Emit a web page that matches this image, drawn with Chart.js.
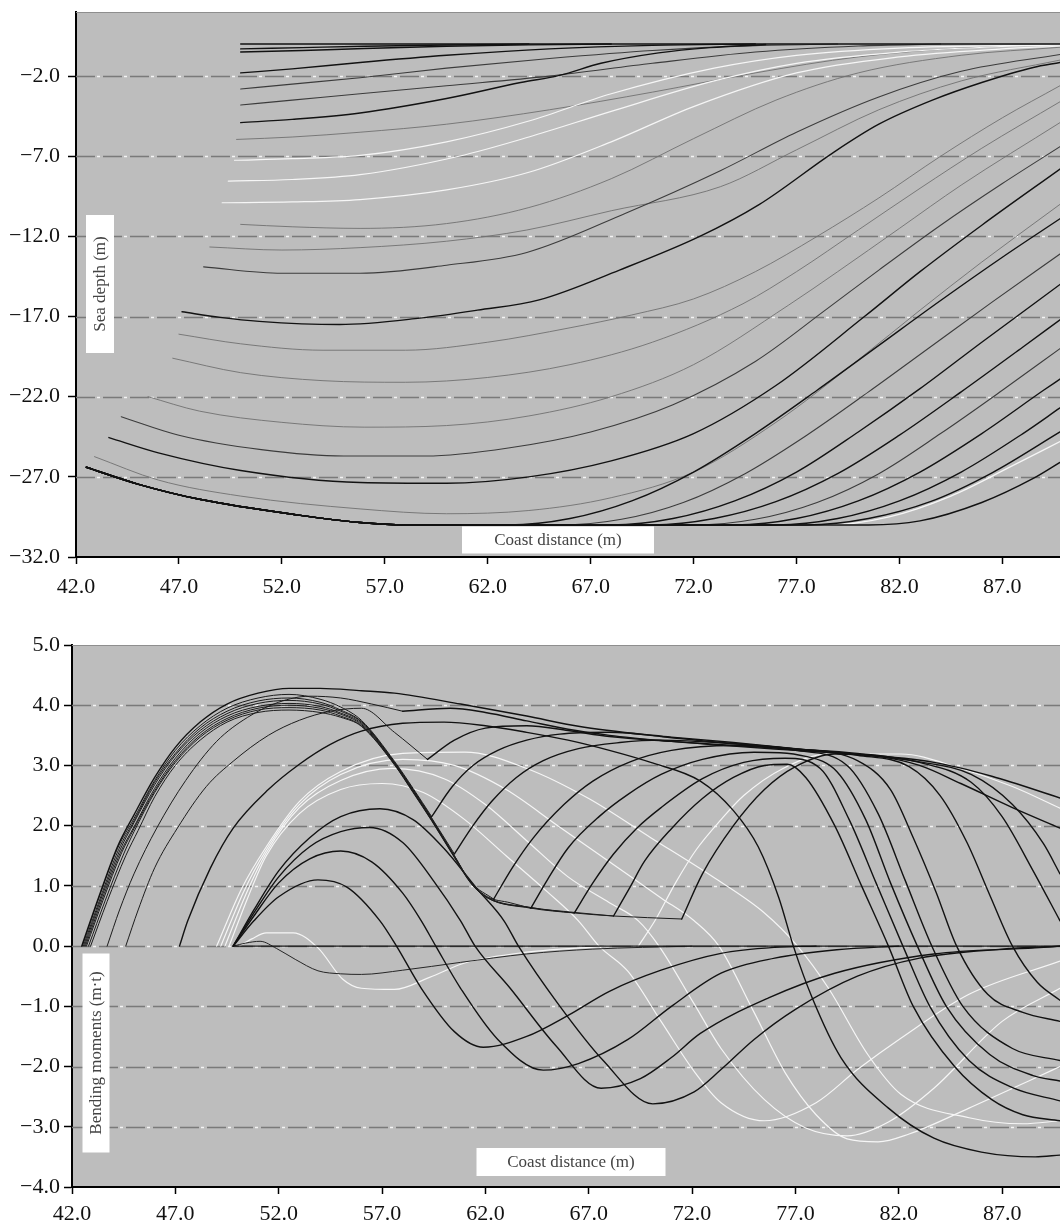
<!DOCTYPE html>
<html><head><meta charset="utf-8">
<script src="https://cdn.jsdelivr.net/npm/chart.js@4.4.1/dist/chart.umd.min.js"></script>
<style>
html,body{margin:0;padding:0;background:#fff;width:1060px;height:1224px;overflow:hidden;}
.wrap{position:absolute;left:0;width:1060px;height:612px;}
#w1{top:0}
#w2{top:612px}
canvas{display:block}
</style></head><body>
<div class="wrap" id="w1"><canvas id="c1" width="1060" height="612"></canvas></div>
<div class="wrap" id="w2"><canvas id="c2" width="1060" height="612"></canvas></div>
<script>
// ---------- tick labels ----------
const xTicks = [42, 47, 52, 57, 62, 67, 72, 77, 82, 87];
const depthTicks = [-32, -27, -22, -17, -12, -7, -2];
const momentTicks = [-4, -3, -2, -1, 0, 1, 2, 3, 4, 5];

// ---------- top panel: sea depth (m) vs coast distance (m) ----------
const d01 = [[50.0,0.0],[70,0.0],[89.8,0.0]];
const d02 = [[50.0,-0.3],[53,-0.22],[56,-0.14],[60,-0.06],[64,0.0]];
const d03 = [[50.0,-0.5],[53,-0.4],[56,-0.28],[60,-0.14],[64,-0.05],[68,0.0]];
const d04 = [[50.0,-1.8],[52.5,-1.55],[55.8,-1.15],[60,-0.7],[65,-0.3],[70,-0.08],[75,0.0]];
const d05 = [[50.0,-2.8],[52.5,-2.5],[55.8,-2.1],[60,-1.5],[65,-0.9],[70,-0.4],[75,-0.1],[79,0.0]];
const d06 = [[50.0,-3.8],[52.5,-3.5],[55.8,-3.1],[60,-2.6],[65,-2.0],[70,-1.2],[75,-0.5],[80,-0.12],[84,0.0]];
const d07 = [[50.0,-4.9],[52.5,-4.7],[55.8,-4.3],[60,-3.4],[63.6,-2.4],[65.5,-1.95],[67.5,-1.2],[70.3,-0.55],[72.8,-0.22],[75.5,-0.03]];
const d08 = [[49.8,-5.95],[52.5,-5.8],[55.8,-5.5],[60,-5.0],[65,-4.1],[70,-3.0],[75,-1.8],[80,-0.8],[85,-0.25],[89.8,-0.05]];
const d09 = [[49.7,-7.25],[52.5,-7.15],[55.8,-6.95],[60,-6.1],[64,-4.8],[68,-3.1],[73,-1.5],[77,-0.7],[82,-0.25],[89.8,-0.05]];
const d10 = [[49.4,-8.55],[52.5,-8.45],[55.8,-8.15],[60.6,-7.0],[64,-5.8],[68,-4.2],[73,-2.3],[77,-1.2],[82,-0.5],[87,-0.15],[89.8,-0.05]];
const d11 = [[49.1,-9.9],[52.5,-9.85],[55.8,-9.7],[60,-9.1],[64,-8.0],[68,-6.1],[72,-3.9],[77,-1.8],[82,-0.8],[87,-0.3],[89.8,-0.12]];
const d12 = [[50.0,-11.25],[52.5,-11.4],[55.8,-11.5],[60,-11.2],[64,-10.2],[68,-8.4],[72,-5.9],[76,-3.5],[80,-1.8],[85,-0.7],[89.8,-0.2]];
const d13 = [[48.5,-12.66],[52,-12.85],[55.8,-12.7],[60,-12.3],[63.9,-11.6],[68,-10.4],[73.3,-8.9],[77,-6.6],[81,-4.1],[85,-2.3],[89.8,-1.0]];
const d14 = [[48.2,-13.9],[52,-14.3],[55.8,-14.3],[60,-13.8],[63.9,-13.0],[68.7,-10.55],[73.3,-7.9],[77,-5.5],[81,-3.3],[85,-1.7],[89.8,-0.65]];
const d15 = [[47.15,-16.7],[49,-17.05],[50.9,-17.3],[54.8,-17.5],[58.7,-17.1],[61.5,-16.6],[64.5,-15.96],[68.4,-14.1],[72.3,-12.0],[75.2,-10.0],[78.75,-6.8],[81,-5.0],[83.6,-3.5],[86,-2.4],[88.5,-1.46],[89.8,-1.15]];
const d16 = [[47.0,-18.1],[50,-18.7],[54,-19.1],[58,-19.1],[62,-18.6],[66,-17.7],[69,-16.9],[72,-15.9],[75,-14.2],[78,-12.0],[81,-9.6],[84,-7.0],[87,-4.6],[89.8,-2.6]];
const d17 = [[46.7,-19.6],[50,-20.5],[54,-21.0],[58,-21.1],[62,-20.8],[66,-20.0],[70,-18.6],[74.4,-16.2],[77,-14.2],[80,-11.6],[83,-9.0],[86,-6.5],[89.8,-3.6]];
const d18 = [[45.5,-22.0],[48,-22.9],[52,-23.6],[56,-23.9],[60,-23.8],[64,-23.2],[68,-22.0],[72,-20.0],[76.6,-16.3],[79,-14.2],[82,-11.5],[85,-8.8],[89.8,-4.9]];
const d19 = [[44.2,-23.25],[47,-24.4],[51,-25.3],[55,-25.7],[59,-25.7],[63,-25.2],[67,-24.2],[71,-22.5],[75,-19.8],[78.4,-16.6],[81,-14.1],[84,-11.3],[87,-8.7],[89.8,-6.4]];
const d20 = [[43.6,-24.55],[46,-25.5],[50,-26.6],[55.8,-27.35],[60,-27.4],[64,-27.0],[68,-26.0],[72,-24.3],[76,-21.3],[80.3,-17.0],[83,-14.2],[86,-11.3],[89.8,-7.8]];
const d21 = [[42.9,-25.74],[46,-27.2],[50,-28.2],[55.8,-29.0],[60,-29.3],[64,-29.1],[68,-28.3],[72,-26.7],[76,-23.6],[80,-19.7],[83,-16.6],[86,-13.6],[89.8,-10.0]];
// pipe lying on the sea bed, then rising towards the surface
const seabed = [[42.5,-26.4],[45,-27.45],[48,-28.4],[52.9,-29.4],[55.8,-29.85],[58,-30.0]];
const rise01 = [[63,-30.0],[66,-29.6],[69,-28.5],[72,-26.7],[75,-24.3],[78,-21.6],[81,-18.8],[84,-16.0],[87,-13.3],[89.8,-10.9]];
const rise02 = [[65.5,-30.0],[68.5,-29.65],[71.5,-28.6],[74.5,-26.8],[77.5,-24.4],[80.5,-21.7],[83.5,-18.9],[86.5,-16.1],[89.8,-13.1]];
const rise03 = [[68,-30.0],[71,-29.6],[74,-28.5],[77,-26.7],[80,-24.2],[83,-21.5],[86,-18.6],[89.8,-15.0]];
const rise04 = [[70,-30.0],[73,-29.6],[76,-28.55],[79,-26.8],[82,-24.4],[85,-21.7],[88,-18.9],[89.8,-17.2]];
const rise05 = [[72,-30.0],[75,-29.65],[78,-28.6],[81,-26.8],[84,-24.3],[87,-21.6],[89.8,-19.0]];
const rise06 = [[74,-30.0],[77,-29.6],[80,-28.5],[83,-26.7],[86,-24.3],[89,-21.6],[89.8,-20.9]];
const rise07 = [[76,-30.0],[79,-29.6],[82,-28.5],[85,-26.7],[88,-24.3],[89.8,-22.7]];
const rise08 = [[77.5,-30.0],[80.5,-29.6],[83.5,-28.55],[86.5,-26.75],[89.8,-24.2]];
const rise09 = [[78.5,-30.0],[81.5,-29.5],[84.5,-28.2],[87.5,-26.3],[89.8,-24.8]];
const rise10 = [[80.5,-30.0],[83,-29.75],[86,-28.6],[88.5,-27.1],[89.8,-26.1]];

// ---------- bottom panel: bending moments (m·t) vs coast distance (m) ----------
const m00 = [[49.8,0],[89.8,0]];
const mF1 = [[49.8,0],[50.4,0.05],[51.1,0.08],[51.9,-0.04],[52.8,-0.22],[53.9,-0.41],[55,-0.46],[56,-0.47],[58,-0.4],[60.8,-0.27],[64,-0.13],[67.2,-0.05],[72,0]];
const mF2 = [[50.1,0],[50.7,0.12],[51.4,0.22],[52.7,0.22],[53.9,-0.03],[55.1,-0.55],[56,-0.7],[57.6,-0.72],[59.3,-0.52],[61,-0.28],[64,-0.1],[68,0]];
const mE1 = [[49.8,0],[50.8,0.42],[52,0.82],[53.9,1.1],[55.3,0.98],[56.9,0.42],[57.7,0],[58.9,-0.7],[60.5,-1.42],[61.9,-1.68],[64,-1.5],[66,-1.15],[68,-0.75],[70.5,-0.4],[73.4,-0.12],[76,-0.02],[78,0]];
const mE2 = [[49.8,0],[50.8,0.5],[52,1.05],[53.5,1.45],[55,1.58],[56.5,1.4],[58,0.88],[58.9,0.42],[59.6,0],[60.8,-0.7],[62.6,-1.55],[64.8,-2.06],[66.5,-1.95],[68.9,-1.55],[71,-1.0],[73.4,-0.45],[76,-0.2],[79,-0.06],[82,0]];
const mE3 = [[49.8,0],[50.8,0.55],[52,1.15],[53.5,1.65],[55,1.9],[56.4,1.97],[58,1.72],[59.5,1.08],[60.8,0.42],[61.5,0],[63.2,-0.7],[65.4,-1.65],[67.6,-2.36],[69.5,-2.2],[71,-1.85],[72.4,-1.45],[75.7,-0.86],[78.9,-0.45],[83.7,-0.13],[88.6,-0.03],[89.8,0]];
const mE4 = [[49.8,0],[50.8,0.6],[52,1.25],[53.5,1.8],[55,2.15],[56.9,2.28],[58.5,2.1],[60,1.62],[61.6,0.95],[62.9,0.42],[63.6,0],[65.5,-0.95],[67.7,-1.9],[70.1,-2.62],[72.1,-2.42],[73.4,-2.05],[75,-1.55],[77,-1.05],[80,-0.5],[83,-0.2],[87,-0.05],[89.8,0]];
const mW1 = [[49.6,0],[50.5,0.8],[51.4,1.5],[53,2.2],[55,2.6],[57,2.7],[59,2.55],[61,2.1],[63,1.5],[65,0.9],[66.5,0.42],[67.5,0],[68.9,-0.42],[70.5,-1.25],[72.1,-2.08],[73.4,-2.6],[75.5,-2.9],[78,-2.6],[80,-2.05],[82.1,-1.53],[85.4,-0.8],[89.8,-0.25]];
const mW2 = [[49.4,0],[50.4,0.85],[51.4,1.55],[53,2.3],[55,2.75],[57.5,2.95],[60,2.78],[62,2.35],[64,1.75],[66,1.15],[68,0.72],[69.4,0.42],[70.4,0],[72.1,-0.96],[73.4,-1.7],[75.5,-2.55],[77.5,-3.02],[79.5,-3.15],[81.5,-2.92],[83.7,-2.36],[87,-1.25],[89.8,-0.7]];
const mW3 = [[49.2,0],[50.3,0.9],[51.4,1.6],[53,2.35],[55,2.85],[58,3.1],[60.5,3.0],[63,2.6],[65.5,2.0],[68,1.4],[70.5,0.8],[72.1,0.42],[73.3,0],[75,-1.1],[76.5,-2.1],[78,-2.8],[79.5,-3.2],[81,-3.25],[82.5,-3.12],[85.4,-2.69],[88.6,-2.19],[89.8,-2.0]];
const mW4 = [[49.0,0],[50.2,0.95],[51.4,1.65],[53,2.4],[55,2.9],[58,3.2],[61,3.22],[64,2.95],[67,2.45],[70,1.8],[73,1.15],[75.5,0.55],[77.1,0],[78.6,-0.7],[80.5,-1.8],[82.1,-2.46],[85.4,-2.85],[88,-2.95],[89.8,-2.9]];
const mWA = [[69.4,0],[70.2,0.42],[71.2,1.05],[72.2,1.6],[73.4,2.1],[74.5,2.5],[76.4,2.95],[78.6,3.19],[82.1,3.19],[85,2.95],[87.5,2.65],[89.8,2.29]];
const mX3 = [[47.2,0],[47.6,0.42],[48.7,1.3],[49.8,1.96],[51.5,2.6],[53,3.02],[54.5,3.35],[56,3.57],[58,3.7],[60,3.72],[62,3.66],[64,3.55],[66,3.42],[68,3.25],[70,3.05],[72.4,2.74],[74,2.25],[75.2,1.65],[76.2,0.8],[76.9,0],[77.8,-0.85],[79.2,-1.85],[81.5,-2.69],[83.7,-3.19],[86,-3.42],[88.6,-3.5],[89.8,-3.47]];
const mTop = [[42.47,0],[43.3,0.82],[44.2,1.65],[45,2.18],[46,2.8],[47,3.3],[48.2,3.72],[49.5,4.02],[51,4.2],[52.5,4.28],[54,4.28],[56,4.24],[57.6,4.2],[60.8,4.02],[64,3.82],[66.5,3.65],[70.5,3.48],[73.4,3.38],[78.9,3.22],[83.7,3.05],[86.5,2.82],[89.8,2.46]];
const mX1 = [[43.7,0],[44.3,0.6],[45,1.2],[46.1,1.96],[47.5,2.75],[49,3.4],[50.5,3.8],[52,4.05],[53.5,4.15],[55,4.12],[56.5,4.02],[58,3.9]];
const mA1 = [[58,3.9],[60.3,3.95],[62,3.88],[64,3.74],[66,3.6],[68,3.5],[71,3.4],[74,3.32],[77,3.25],[80,3.18],[83,3.06],[85.5,2.85],[87.5,2.35],[89,1.7],[89.8,1.2]];
const mX2 = [[44.6,0],[45.2,0.6],[46,1.3],[47.1,1.96],[48.5,2.65],[49.8,3.07],[51.5,3.5],[53,3.75],[54.5,3.9],[56,3.95],[57.6,3.55],[59.2,3.1]];
const mA2 = [[59.2,3.1],[60.5,3.42],[62,3.62],[64,3.66],[66,3.58],[68,3.48],[71,3.4],[74,3.33],[77,3.27],[80,3.2],[83,3.05],[85.5,2.72],[87,2.15],[88.5,1.25],[89.8,0.42]];
const mB3 = [[42.5,0],[43.3,0.8],[44.2,1.62],[45,2.12],[46,2.75],[47,3.25],[48.2,3.66],[49.5,3.95],[51,4.12],[52.5,4.18],[54,4.1],[55,3.97],[56,3.75],[57.6,3.07],[58.5,2.62],[59.4,2.15]];
const mA3 = [[59.4,2.15],[60.4,2.65],[61.4,3.0],[62.6,3.25],[64,3.42],[65.6,3.52],[68,3.55],[71,3.47],[74,3.38],[77,3.28],[80,3.17],[82.5,2.98],[84,2.5],[85.3,1.72],[86.4,0.85],[87.5,0],[88.7,-0.6],[89.8,-0.9]];
const mB4 = [[42.55,0],[43.35,0.78],[44.25,1.6],[45,2.08],[46,2.72],[47,3.2],[48.2,3.62],[49.5,3.9],[51,4.07],[52.5,4.12],[54,4.05],[55,3.92],[56,3.73],[57.6,3.05],[58.5,2.6],[59.4,2.13],[60.5,1.53]];
const mA4 = [[60.5,1.53],[61.4,2.0],[62.3,2.4],[63.5,2.8],[64.8,3.08],[66.5,3.28],[68.5,3.38],[70.5,3.42],[74,3.36],[77,3.27],[80,3.08],[81.6,2.6],[82.7,1.8],[83.8,0.9],[84.8,0],[86.3,-0.8],[88,-1.1],[89.8,-1.25]];
const mB5 = [[42.6,0],[43.4,0.78],[44.3,1.58],[45,2.05],[46,2.68],[47,3.17],[48.2,3.58],[49.5,3.86],[51,4.03],[52.5,4.08],[54,4.02],[55,3.9],[56,3.72],[57.6,3.05],[58.5,2.6],[59.4,2.12],[60.5,1.5],[61.3,1.06],[62.4,0.78]];
const mA5 = [[62.4,0.78],[63.3,1.3],[64.3,1.79],[65.8,2.35],[67.2,2.74],[69,3.06],[71,3.25],[74,3.33],[77,3.25],[79.5,3.0],[81,2.2],[82.3,1.1],[83.6,0],[85.1,-1.0],[87.5,-1.7],[89.8,-1.9]];
const mB6 = [[42.65,0],[43.45,0.77],[44.35,1.56],[45,1.98],[46,2.62],[47,3.12],[48.2,3.54],[49.5,3.82],[51,3.98],[52.5,4.03],[54,3.98],[55,3.87],[56,3.7],[57.6,3.04],[58.5,2.58],[59.4,2.1],[60.5,1.5],[61.3,1.06],[62.1,0.82],[63.2,0.72],[64.2,0.63]];
const mA6 = [[64.2,0.63],[65,1.1],[66,1.63],[67.5,2.15],[68.9,2.52],[70.5,2.85],[72.5,3.1],[75,3.22],[77.5,3.15],[79,2.9],[80.4,2.1],[81.6,1.05],[82.9,0],[84.3,-1.0],[86.4,-1.8],[88.5,-2.15],[89.8,-2.24]];
const mB7 = [[42.7,0],[43.5,0.76],[44.4,1.55],[45,1.95],[46,2.58],[47,3.08],[48.2,3.5],[49.5,3.78],[51,3.95],[52.5,4.0],[54,3.95],[55,3.85],[56,3.68],[57.6,3.03],[58.5,2.57],[59.4,2.1],[60.5,1.49],[61.3,1.05],[62.1,0.81],[64.2,0.64],[66.3,0.55]];
const mA7 = [[66.3,0.55],[67.2,1.05],[68.2,1.53],[69.3,1.95],[70.5,2.3],[72.5,2.78],[74.5,3.05],[76.5,3.12],[78.2,2.95],[79.6,2.1],[80.9,1.05],[82.2,0],[83.5,-1.0],[85.4,-1.9],[87.5,-2.35],[89.8,-2.57]];
const mB8 = [[42.8,0],[43.6,0.75],[44.5,1.53],[45,1.9],[46,2.55],[47,3.05],[48.2,3.47],[49.5,3.75],[51,3.92],[52.5,3.96],[54,3.92],[55,3.82],[56,3.66],[57.6,3.02],[58.5,2.56],[59.4,2.09],[60.5,1.48],[61.3,1.05],[62.1,0.8],[64.2,0.64],[66.3,0.56],[68.2,0.5]];
const mA8 = [[68.2,0.5],[69,0.98],[69.7,1.41],[71,1.95],[72.5,2.45],[74,2.8],[75.5,3.0],[76.6,3.02],[77.5,2.8],[78.9,2.0],[80.2,1.0],[81.5,0],[82.7,-1.0],[84.7,-2.0],[86.5,-2.55],[88,-2.8],[89.8,-2.9]];
const mB9 = [[42.9,0],[43.7,0.74],[44.6,1.5],[45.2,1.92],[46,2.48],[47,3.0],[48.2,3.42],[49.5,3.72],[51,3.88],[52.5,3.92],[54,3.88],[55,3.8],[56,3.65],[57.6,3.01],[58.5,2.55],[59.4,2.08],[60.5,1.47],[61.3,1.04],[62.1,0.8],[64.2,0.63],[66.3,0.55],[68.2,0.5],[71.5,0.45]];
const mA9 = [[71.5,0.45],[72.5,1.2],[74,2.0],[75.5,2.6],[77,2.98],[78.9,3.19],[81,3.15],[83,3.0],[85,2.7],[87.5,2.3],[89.8,1.96]];

// ---------- helpers ----------
function fmt(v){ return (v < 0 ? '\u2212' : '') + Math.abs(v).toFixed(1); }
const STY = {
  black: {c:'#121212', w:1.4},
  bunch: {c:'#1c1c1c', w:1.0},
  dark:  {c:'#3c3c3c', w:1.1},
  gray:  {c:'#707070', w:0.9},
  thin:  {c:'#262626', w:1.0},
  white: {c:'#f6f6f6', w:1.2}
};
function build(series){
  return series.map(([pts, st]) => ({
    data: pts.map(p => ({x:p[0], y:p[1]})),
    showLine: true, pointRadius: 0, pointHoverRadius: 0, fill: false,
    borderColor: STY[st].c, borderWidth: STY[st].w,
    cubicInterpolationMode: 'monotone', borderJoinStyle: 'round', borderCapStyle: 'round'
  })).reverse();
}

const topSeries = [
  [d08,'gray'],[d12,'gray'],[d13,'gray'],[d16,'gray'],[d17,'gray'],[d18,'gray'],[d21,'gray'],
  [d05,'dark'],[d06,'dark'],[d14,'dark'],[d19,'dark'],
  [seabed.concat(rise02),'dark'],[seabed.concat(rise05),'dark'],
  [d09,'white'],[d10,'white'],[d11,'white'],[seabed.concat(rise09),'white'],
  [d01,'black'],[d02,'black'],[d03,'black'],[d04,'black'],[d07,'black'],[d15,'black'],[d20,'black'],
  [seabed.concat(rise01),'black'],[seabed.concat(rise03),'black'],[seabed.concat(rise04),'black'],
  [seabed.concat(rise06),'black'],[seabed.concat(rise07),'black'],[seabed.concat(rise08),'black'],
  [seabed.concat(rise10),'black']
];
const botSeries = [
  [mF2,'white'],[mW1,'white'],[mW2,'white'],[mW3,'white'],[mW4,'white'],[mWA,'white'],
  [mF1,'thin'],[mE1,'black'],[mE2,'black'],[mE3,'black'],[mE4,'black'],[mX3,'black'],
  [mB9,'bunch'],[mA9,'black'],[mB8,'bunch'],[mA8,'black'],[mB7,'bunch'],[mA7,'black'],
  [mB6,'bunch'],[mA6,'black'],[mB5,'bunch'],[mA5,'black'],[mB4,'bunch'],[mA4,'black'],
  [mB3,'bunch'],[mA3,'black'],[mX2,'bunch'],[mA2,'black'],[mX1,'bunch'],[mA1,'black'],
  [mTop,'black'],[m00,'black']
];

// ---------- decoration plugin: plot background, dashed grid, label boxes ----------
const deco = {
  id: 'deco',
  beforeDraw(chart, args, o){
    const {ctx, chartArea:a} = chart;
    ctx.save();
    ctx.fillStyle = o.bg;
    ctx.fillRect(a.left, a.top, a.right - a.left, a.bottom - a.top);
    ctx.restore();
  },
  beforeDatasetsDraw(chart, args, o){
    const {ctx, chartArea:a, scales:{y}} = chart;
    ctx.save();
    ctx.strokeStyle = '#8e8e8e'; ctx.lineWidth = 1;
    ctx.beginPath(); ctx.moveTo(a.left, a.top + 0.5); ctx.lineTo(a.right, a.top + 0.5); ctx.stroke();
    y.ticks.forEach(t => {
      if (t.value <= y.min || t.value >= y.max) return;
      const py = Math.round(y.getPixelForValue(t.value)) + 0.5;
      ctx.lineWidth = 1.6;
      ctx.strokeStyle = '#7a7a7a'; ctx.setLineDash([19, 8]); ctx.lineDashOffset = 0;
      ctx.beginPath(); ctx.moveTo(a.left, py); ctx.lineTo(a.right, py); ctx.stroke();
      ctx.strokeStyle = '#f4f4f4'; ctx.setLineDash([3, 24]); ctx.lineDashOffset = -21;
      ctx.beginPath(); ctx.moveTo(a.left, py); ctx.lineTo(a.right, py); ctx.stroke();
    });
    ctx.restore();
  },
  afterDraw(chart, args, o){
    const {ctx, scales:{x, y}} = chart;
    (o.boxes || []).forEach(b => {
      const cx = x.getPixelForValue(b.x), cy = y.getPixelForValue(b.y);
      ctx.save();
      ctx.translate(Math.round(cx), Math.round(cy));
      if (b.rot) ctx.rotate(-Math.PI / 2);
      ctx.fillStyle = '#ffffff';
      ctx.fillRect(-b.w / 2, -b.h / 2, b.w, b.h);
      ctx.fillStyle = '#444444';
      ctx.font = '17px "Liberation Serif", "Times New Roman", serif';
      ctx.textAlign = 'center'; ctx.textBaseline = 'middle';
      ctx.fillText(b.text, 0, 1);
      ctx.restore();
    });
  }
};

function scaleOpts(yMin, yMax, yTicks, yWidth, yPad, yTick, xHeight, xPad){
  const tickFont = {family: '"Liberation Serif", "Times New Roman", serif', size: 22};
  return {
    x: {
      type: 'linear', min: 42, max: 89.8,
      afterBuildTicks: s => { s.ticks = xTicks.map(v => ({value: v})); },
      afterFit: s => { s.height = xHeight; s.paddingLeft = 0; s.paddingRight = 0; },
      grid: {display: true, drawOnChartArea: false, drawTicks: true, tickLength: 7, tickColor: '#000', tickWidth: 1.5},
      border: {display: true, color: '#000', width: 2},
      ticks: {font: tickFont, color: '#111', padding: xPad, maxRotation: 0, minRotation: 0, autoSkip: false, callback: v => fmt(v)}
    },
    y: {
      type: 'linear', min: yMin, max: yMax,
      afterBuildTicks: s => { s.ticks = yTicks.map(v => ({value: v})); },
      afterFit: s => { s.width = yWidth; s.paddingTop = 0; s.paddingBottom = 0; },
      grid: {display: true, drawOnChartArea: false, drawTicks: true, tickLength: yTick, tickColor: '#000', tickWidth: 1.5},
      border: {display: true, color: '#000', width: 2},
      ticks: {font: tickFont, color: '#111', padding: yPad, autoSkip: false, callback: v => fmt(v)}
    }
  };
}

new Chart(document.getElementById('c1'), {
  type: 'scatter',
  data: {datasets: build(topSeries)},
  options: {
    responsive: false, animation: false, devicePixelRatio: 1, events: [],
    parsing: false, normalized: true,
    layout: {padding: {top: 12, left: 0, right: 0, bottom: 0}},
    plugins: {
      legend: {display: false}, tooltip: {enabled: false},
      deco: {bg: '#bdbdbd', boxes: [
        {text: 'Sea depth (m)', x: 43.17, y: -14.96, w: 138, h: 28, rot: true},
        {text: 'Coast distance (m)', x: 65.4, y: -30.95, w: 192, h: 27}
      ]}
    },
    scales: scaleOpts(-32, 2, depthTicks, 76, 8, 8, 55, 10)
  },
  plugins: [deco]
});

new Chart(document.getElementById('c2'), {
  type: 'scatter',
  data: {datasets: build(botSeries)},
  options: {
    responsive: false, animation: false, devicePixelRatio: 1, events: [],
    parsing: false, normalized: true,
    layout: {padding: {top: 33, left: 0, right: 0, bottom: 0}},
    plugins: {
      legend: {display: false}, tooltip: {enabled: false},
      deco: {bg: '#bdbdbd', boxes: [
        {text: 'Bending moments (m\u00b7t)', x: 43.16, y: -1.78, w: 199, h: 27, rot: true},
        {text: 'Coast distance (m)', x: 66.13, y: -3.59, w: 189, h: 28}
      ]}
    },
    scales: scaleOpts(-4, 5, momentTicks, 72, 4, 8, 37, 7)
  },
  plugins: [deco]
});
</script>
</body></html>
